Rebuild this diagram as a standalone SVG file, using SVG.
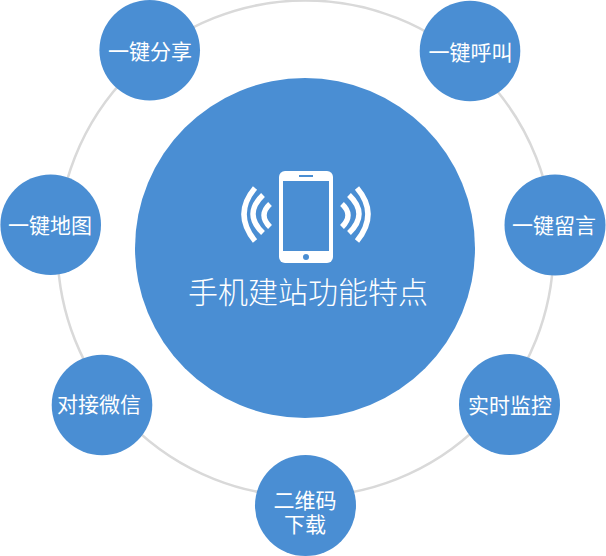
<svg xmlns="http://www.w3.org/2000/svg" width="606" height="556" viewBox="0 0 606 556">
<style>
.n{fill:#4a8ed3}
.t{fill:#fff;font-family:"Noto Sans CJK SC","Microsoft YaHei",sans-serif;font-size:21px;text-anchor:middle}
.w{fill:none;stroke:#fff;stroke-width:5.5}
</style>
<rect width="606" height="556" fill="#fff"/>
<g id="connectors"><circle cx="305.500" cy="248.500" r="248" fill="none" stroke="#d9d9d9" stroke-width="2.500"/></g>
<g id="center">
<circle class="n" cx="305" cy="248" r="170"/>
<rect x="279" y="171" width="54" height="92" rx="6" fill="#fff"/>
<rect x="283" y="181" width="46" height="70" class="n"/>
<rect x="299" y="175" width="14" height="2" class="n"/>
<circle class="n" cx="306" cy="257" r="3"/>
<path class="w" d="M270 204Q258 215 270 227M263 195Q243 214 263 233M255 188Q233 214 255 241"/>
<path class="w" d="M342 204Q354 215 342 227M349 195Q369 214 349 233M357 188Q379 214 357 241"/>
<text class="t" x="308" y="303" style="font-size:30px;font-weight:300">手机建站功能特点</text>
</g>
<g id="n1"><circle class="n" cx="149.700" cy="50.300" r="50.300"/><text class="t" x="150" y="59">一键分享</text></g>
<g id="n2"><circle class="n" cx="470" cy="51" r="50.300"/><text class="t" x="470.500" y="60">一键呼叫</text></g>
<g id="n3"><circle class="n" cx="50.700" cy="224.700" r="50.300"/><text class="t" x="50" y="233">一键地图</text></g>
<g id="n4"><circle class="n" cx="555" cy="225" r="50.500"/><text class="t" x="554" y="233">一键留言</text></g>
<g id="n5"><circle class="n" cx="102" cy="405" r="50.300"/><text class="t" x="99" y="412">对接微信</text></g>
<g id="n6"><circle class="n" cx="509.500" cy="404.500" r="50.500"/><text class="t" x="510" y="413">实时监控</text></g>
<g id="n7"><circle class="n" cx="305.500" cy="505.500" r="50.500"/><text class="t" x="305" y="508">二维码<tspan x="305" dy="24">下载</tspan></text></g>
</svg>
